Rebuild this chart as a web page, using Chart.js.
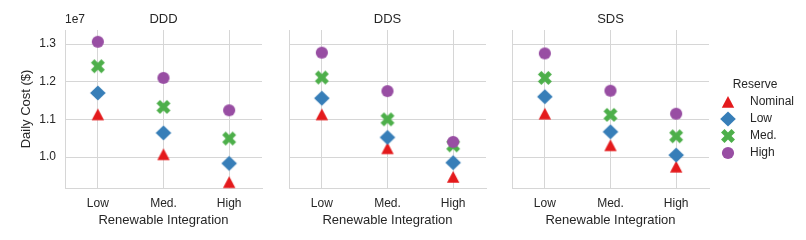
<!DOCTYPE html>
<html>
<head>
<meta charset="utf-8">
<script src="https://cdn.jsdelivr.net/npm/chart.js"></script>
<style>
  html, body { margin: 0; padding: 0; background: #ffffff; }
  #wrap { position: relative; width: 806px; height: 240px; overflow: hidden; }
  #wrap canvas { position: absolute; left: 0; top: 0; }
</style>
</head>
<body>
<div id="wrap">
  <canvas id="c0" width="806" height="240"></canvas>
  <canvas id="c1" width="806" height="240"></canvas>
  <canvas id="c2" width="806" height="240"></canvas>
</div>
<script>
// ---------------- data ----------------
const categories = ['Low', 'Med.', 'High'];
const panelTitles = ['DDD', 'DDS', 'SDS'];
const reserveNames = ['Nominal', 'Low', 'Med.', 'High'];
const yTickValues = [1.0e7, 1.1e7, 1.2e7, 1.3e7];
const yOffsetLabel = '1e7';
const xAxisLabel = 'Renewable Integration';
const yAxisLabel = 'Daily Cost ($)';
const legendTitle = 'Reserve';

const dddNominal = [1.113e7, 1.007e7, 0.933e7];
const dddLow     = [1.170e7, 1.064e7, 0.983e7];
const dddMed     = [1.241e7, 1.133e7, 1.049e7];
const dddHigh    = [1.306e7, 1.210e7, 1.124e7];

const ddsNominal = [1.113e7, 1.023e7, 0.947e7];
const ddsLow     = [1.156e7, 1.052e7, 0.985e7];
const ddsMed     = [1.211e7, 1.100e7, 1.031e7];
const ddsHigh    = [1.277e7, 1.175e7, 1.040e7];

const sdsNominal = [1.115e7, 1.031e7, 0.974e7];
const sdsLow     = [1.160e7, 1.067e7, 1.005e7];
const sdsMed     = [1.210e7, 1.112e7, 1.055e7];
const sdsHigh    = [1.275e7, 1.176e7, 1.115e7];

// ---------------- styling ----------------
const FONT = '"Liberation Sans", Arial, Helvetica, sans-serif';
const textColor = '#262626';
const gridColor = '#d6d6d6';
const colors = ['#e41a1c', '#377eb8', '#4daf4a', '#984ea3'];
const shapes = ['triangle', 'diamond', 'x', 'circle'];
const yMin = 0.9177e7, yMax = 1.3372e7;

function makeMarker(shape, color) {
  const s = 20;
  const c = document.createElement('canvas');
  c.width = s; c.height = s;
  const g = c.getContext('2d');
  g.fillStyle = color;
  g.translate(s / 2, s / 2);
  g.beginPath();
  if (shape === 'triangle') {
    g.moveTo(0, -6);
    g.lineTo(6.2, 5.8);
    g.lineTo(-6.2, 5.8);
    g.closePath();
  } else if (shape === 'diamond') {
    g.moveTo(0, -7.6);
    g.lineTo(7.8, 0);
    g.lineTo(0, 7.6);
    g.lineTo(-7.8, 0);
    g.closePath();
  } else if (shape === 'circle') {
    g.arc(0, 0, 6.1, 0, Math.PI * 2);
  } else if (shape === 'x') {
    const u = 14.8 / 6;
    const pts = [[-1,-3],[1,-3],[1,-1],[3,-1],[3,1],[1,1],[1,3],[-1,3],[-1,1],[-3,1],[-3,-1],[-1,-1]];
    const a = Math.PI / 4;
    pts.forEach((p, i) => {
      const x = (p[0] * Math.cos(a) - p[1] * Math.sin(a)) * u;
      const y = (p[0] * Math.sin(a) + p[1] * Math.cos(a)) * u;
      if (i === 0) g.moveTo(x, y); else g.lineTo(x, y);
    });
    g.closePath();
  }
  g.fill();
  return c;
}
const markers = shapes.map((sh, i) => makeMarker(sh, colors[i]));

const panelText = {
  id: 'panelText',
  afterDraw(chart, args, opts) {
    const { ctx, chartArea } = chart;
    ctx.save();
    ctx.fillStyle = textColor;
    ctx.textBaseline = 'middle';
    ctx.font = '13px ' + FONT;
    ctx.textAlign = 'center';
    ctx.fillText(opts.title, (chartArea.left + chartArea.right) / 2, 19.5);
    if (opts.offsetText) {
      ctx.font = '12px ' + FONT;
      ctx.textAlign = 'left';
      ctx.fillText(opts.offsetText, chartArea.left, 19.5);
    }
    if (opts.legend) {
      ctx.font = '12px ' + FONT;
      ctx.textAlign = 'center';
      ctx.fillText(legendTitle, 755, 84.5);
      ctx.textAlign = 'left';
      reserveNames.forEach((name, i) => {
        const y = 101.5 + i * 17;
        ctx.drawImage(markers[i], 728 - 10, Math.round(y) - 10);
        ctx.fillText(name, 750, y);
      });
    }
    ctx.restore();
  }
};

function makeChart(id, idx, series, pad) {
  const first = idx === 0;
  const datasets = series.map((vals, i) => ({
    label: reserveNames[i],
    data: vals,
    showLine: false,
    pointStyle: markers[i],
    pointRadius: 6,
    pointHoverRadius: 6,
    backgroundColor: colors[i],
    borderColor: colors[i],
    order: 3 - i,
    clip: false
  }));
  return new Chart(document.getElementById(id), {
    type: 'line',
    data: { labels: categories, datasets },
    plugins: [panelText],
    options: {
      responsive: false,
      animation: false,
      events: [],
      layout: { padding: pad },
      plugins: {
        legend: { display: false },
        tooltip: { enabled: false },
        title: { display: false },
        panelText: { title: panelTitles[idx], offsetText: first ? yOffsetLabel : null, legend: idx === 2 }
      },
      scales: {
        x: {
          type: 'category',
          offset: true,
          grid: { color: gridColor, lineWidth: 1, offset: false, drawTicks: false },
          border: { display: true, color: gridColor, width: 1 },
          ticks: { color: textColor, font: { family: FONT, size: 12 }, padding: 8, maxRotation: 0 },
          title: { display: true, text: xAxisLabel, color: textColor, font: { family: FONT, size: 13 }, padding: { top: 0, bottom: 12 } },
          afterFit(scale) { scale.height = 52; }
        },
        y: {
          type: 'linear',
          min: yMin,
          max: yMax,
          grid: { color: gridColor, lineWidth: 1, drawTicks: false },
          border: { display: true, color: gridColor, width: 1 },
          afterBuildTicks(scale) { scale.ticks = yTickValues.map(v => ({ value: v })); },
          ticks: {
            display: first,
            color: textColor,
            font: { family: FONT, size: 12 },
            padding: 9,
            callback: (v) => (v / 1e7).toFixed(1)
          },
          title: { display: first, text: yAxisLabel, color: textColor, font: { family: FONT, size: 13 }, padding: { top: 19, bottom: 0 } },
          afterFit(scale) { scale.width = first ? 65 : 0; }
        }
      }
    }
  });
}

makeChart('c0', 0, [dddNominal, dddLow, dddMed, dddHigh], { left: 0, right: 544, top: 30, bottom: 0 });
makeChart('c1', 1, [ddsNominal, ddsLow, ddsMed, ddsHigh], { left: 289, right: 320, top: 30, bottom: 0 });
makeChart('c2', 2, [sdsNominal, sdsLow, sdsMed, sdsHigh], { left: 512, right: 97, top: 30, bottom: 0 });
</script>
</body>
</html>
